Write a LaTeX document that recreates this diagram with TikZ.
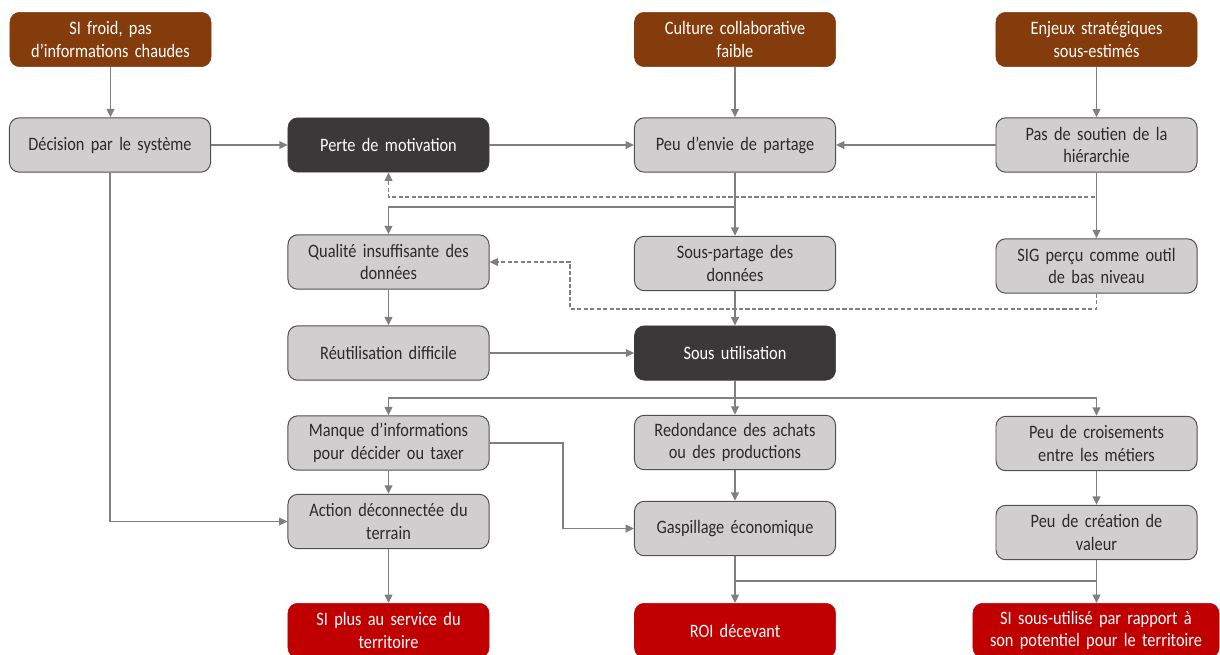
\documentclass[tikz,border=0pt]{standalone}
\usepackage{fontspec}
\setmainfont{Carlito}[FakeStretch=0.86,WordSpace=0.7]
\usetikzlibrary{arrows.meta,calc}
\definecolor{brownc}{HTML}{843C0C}
\definecolor{darkc}{HTML}{3A3838}
\definecolor{grayc}{HTML}{D0CECE}
\definecolor{grayb}{HTML}{505050}
\definecolor{redc}{HTML}{C00000}
\definecolor{linec}{HTML}{7F7F7F}
\definecolor{txtc}{HTML}{2B2B2B}
\tikzset{
  box/.style={rectangle, rounded corners=7pt, minimum width=5.025cm, minimum height=1.36cm,
    text width=4.7cm, align=center, inner sep=1pt, font=\fontsize{13.5}{16.2}\selectfont},
  brownbox/.style={box, fill=brownc, draw=brownc, text=white},
  darkbox/.style={box, fill=darkc, draw=darkc, text=white},
  graybox/.style={box, fill=grayc, draw=grayb, line width=0.7pt, text=txtc},
  redbox/.style={box, fill=redc, draw=redc, text=white},
  conn/.style={draw=linec, line width=1.1pt},
  arr/.style={conn, -{Triangle[length=6pt,width=5.5pt]}},
  dsh/.style={arr, dash pattern=on 3pt off 1.6pt},
}
\begin{document}
\begin{tikzpicture}[x=0.025cm,y=-0.025cm]
\useasboundingbox (0,0) rectangle (1220,654);
\clip (0,0) rectangle (1220,654);
\fill[white] (0,0) rectangle (1220,654);
% row 1
\node[brownbox] (A1) at (110.5,39.5) {SI froid, pas\\d’informations chaudes};
\node[brownbox] (A2) at (735,39.5) {Culture collaborative\\faible};
\node[brownbox] (A3) at (1096.5,39.5) {Enjeux stratégiques\\sous-estimés};
% row 2
\node[graybox] (B1) at (110,145) {Décision par le système};
\node[darkbox] (B2) at (388.5,145) {Perte de motivation};
\node[graybox] (B3) at (735,145) {Peu d’envie de partage};
\node[graybox] (B4) at (1096.5,145) {Pas de soutien de la\\hiérarchie};
% row 3
\node[graybox] (C1) at (388.5,262) {Qualité insuffisante des\\données};
\node[graybox] (C2) at (735,263.5) {Sous-partage des\\données};
\node[graybox] (C3) at (1096.5,266) {SIG perçu comme outil\\de bas niveau};
% row 4
\node[graybox] (D1) at (388.5,353) {Réutilisation difficile};
\node[darkbox] (D2) at (735,353) {Sous utilisation};
% row 5
\node[graybox] (E1) at (388.5,443) {Manque d’informations\\pour décider ou taxer};
\node[graybox] (E2) at (735,442.5) {Redondance des achats\\ou des productions};
\node[graybox] (E3) at (1096.5,443.5) {Peu de croisements\\entre les métiers};
% row 6
\node[graybox] (F1) at (388.5,521.5) {Action déconnectée du\\terrain};
\node[graybox] (F2) at (735,528.5) {Gaspillage économique};
\node[graybox] (F3) at (1096.5,532.5) {Peu de création de\\valeur};
% row 7
\node[redbox, anchor=north] (G1) at (388.5,603) {SI plus au service du\\territoire};
\node[redbox, anchor=north] (G2) at (735,603) {ROI décevant};
\node[redbox, anchor=north, minimum width=6.15cm, text width=6cm] (G3) at (1096,603) {SI sous-utilisé par rapport à\\son potentiel pour le territoire};
% junctions
\coordinate (j1) at (735,207);
\coordinate (d1) at (1096.5,197);
\coordinate (d2) at (570,309);
\coordinate (j2) at (735,398);
\coordinate (j3) at (563,443);
\coordinate (j4) at (735,581);
% connectors
\draw[arr] (A1.south) -- (A1.south |- B1.north);
\draw[arr] (A2) -- (B3);
\draw[arr] (A3.south) -- (B4.north);
\draw[arr] (B1.east) -- (B2.west);
\draw[arr] (B2.east) -- (B3.west);
\draw[arr] (B4.west) -- (B3.east);
\draw[dsh] (B4.south) -- (d1) -| (B2.south);
\draw[arr] (B3.south) -- (C2.north);
\draw[arr] (B3.south) -- (j1) -| (C1.north);
\draw[arr] (B4.south) -- (C3.north);
\draw[dsh] (C3.south) |- (d2) |- (C1.east);
\draw[arr] (C1.south) -- (D1.north);
\draw[arr] (C2.south) -- (D2.north);
\draw[arr] (D1.east) -- (D2.west);
\draw[arr] (D2.south) -- (E2.north);
\draw[arr] (D2.south) -- (j2) -| (E1.north);
\draw[arr] (j2) -| (E3.north);
\draw[arr] (E1.south) -- (F1.north);
\draw[arr] (E1.east) -- (j3) |- (F2.west);
\draw[arr] (B1.south) |- (F1.west);
\draw[arr] (E2.south) -- (F2.north);
\draw[arr] (E3.south) -- (F3.north);
\draw[arr] (F1.south) -- (G1.north);
\draw[arr] (F2.south) -- (G2.north);
\draw[arr] (F3.south) -- (F3.south |- G3.north);
\draw[conn] (j4) -- (j4 -| F3.south);
\end{tikzpicture}
\end{document}
